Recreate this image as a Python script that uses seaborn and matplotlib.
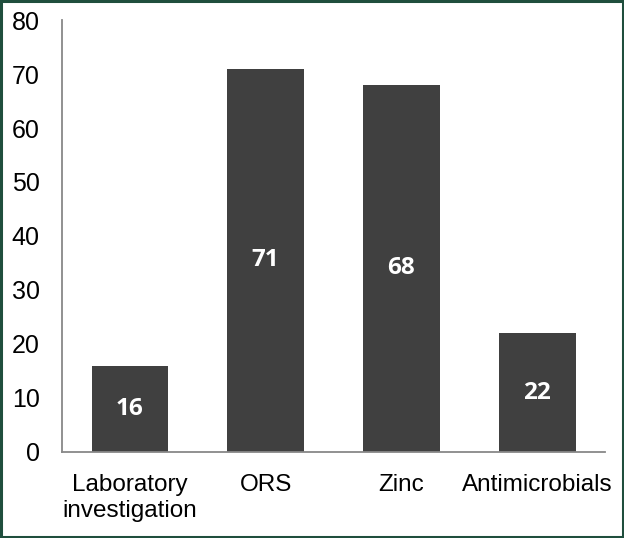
import matplotlib
matplotlib.use("Agg")
import matplotlib.pyplot as plt
import seaborn as sns
import pandas as pd
from matplotlib.patches import Rectangle

categories = ["Laboratory\ninvestigation", "ORS", "Zinc", "Antimicrobials"]
values = [16, 71, 68, 22]

sns.set_theme(style="white")
plt.rcParams['font.family'] = ['Liberation Sans', 'DejaVu Sans']

df = pd.DataFrame({"cat": categories, "val": values})

fig = plt.figure(figsize=(6.24, 5.38), dpi=100)
ax = fig.add_axes([0.0994, 0.1599, 0.8702, 0.8029])
sns.barplot(data=df, x="cat", y="val", color="#404040", saturation=1,
            width=0.565, ax=ax)
for p in ax.patches:
    p.set_edgecolor("none")

ax.set_ylim(0, 80)
ax.set_yticks(range(0, 81, 10))
ax.set_xlim(-0.5, 3.5)
ax.set_xlabel("")
ax.set_ylabel("")

for c in ax.containers:
    ax.bar_label(c, labels=[str(v) for v in values], label_type="center",
                 color="white", fontsize=17.5, fontweight="bold",
                 family=["Open Sans", "DejaVu Sans"])

ax.tick_params(axis="y", length=0, labelsize=18, colors="black", pad=16)
ax.tick_params(axis="x", length=0, labelsize=17.5, colors="black", pad=16)
for lbl in ax.get_xticklabels():
    lbl.set_linespacing(1.2)

for s in ["top", "right"]:
    ax.spines[s].set_visible(False)
for s in ["left", "bottom"]:
    ax.spines[s].set_color("#888888")
    ax.spines[s].set_linewidth(1.3)

fig.patches.append(Rectangle((0.0016, 0.0019), 0.9968, 0.9962,
                             transform=fig.transFigure, fill=False,
                             edgecolor="#1f4e3d", linewidth=2.2))

fig.savefig("out.png", dpi=100)
